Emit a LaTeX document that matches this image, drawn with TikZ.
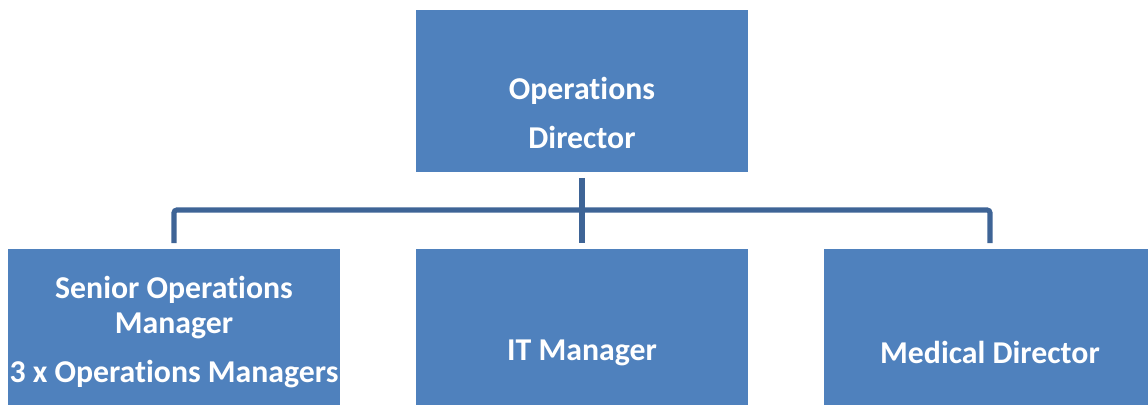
\documentclass[tikz,border=0pt]{standalone}
\usepackage{fontspec}
\setmainfont{Carlito}[Ligatures=NoCommon]
\usetikzlibrary{positioning}
\definecolor{boxblue}{RGB}{79,129,189}
\definecolor{lineblue}{RGB}{62,100,150}
\tikzset{
  orgbox/.style={fill=boxblue, draw=none, inner sep=0pt,
    minimum width=8.3cm, minimum height=4.05cm},
  orgtext/.style={text=white, align=center, inner sep=0pt,
    font=\bfseries\fontsize{22.6}{25}\selectfont},
  conn/.style={draw=lineblue, line width=3.6pt}
}
\begin{document}
\begin{tikzpicture}[x=0.025cm, y=-0.025cm]
    \useasboundingbox (0,0) rectangle (1148,405);%画面大小
    \node[orgbox] (dir) at (582,91) {};%上面的方框
    \node[orgbox] (som) at (174,330) {};
    \node[orgbox] (itm) at (582,330) {};
    \node[orgbox] (med) at (990,330) {};
    \coordinate (bar) at (582,210);%横线的高度
    \node[orgtext] (dirtxt) at (582,113) {Operations\\[10pt]Director};
    \node[orgtext] (somtxt) at (174,332) {Senior Operations\\Manager\\[10pt]3 x Operations Managers};
    \node[orgtext] (itmtxt) at (582,353) {IT Manager};
    \node[orgtext] (medtxt) at (990,352) {Medical Director};
    \draw[conn, shorten <=4pt] (dir.south) -- (dir.south |- bar);
    \draw[conn, shorten <=4pt, shorten >=4pt, rounded corners=2pt]
        (som.north) -- (som.north |- bar) -- (med.north |- bar) -- (med.north);
    \draw[conn, shorten >=4pt] (itm.north |- bar) -- (itm.north);
\end{tikzpicture}
\end{document}
